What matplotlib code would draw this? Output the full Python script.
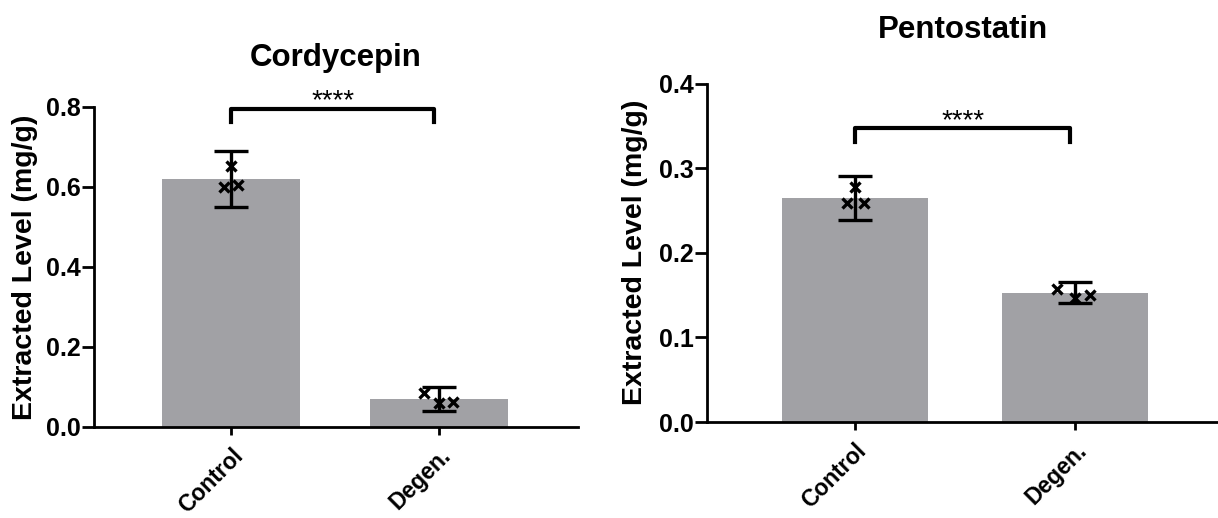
import matplotlib.pyplot as plt
import numpy as np

plt.rcParams['font.family'] = ['Liberation Sans', 'DejaVu Sans']
plt.rcParams['font.weight'] = 'bold'

groups = ['Control', 'Degen.']

# Cordycepin
cord_mean = [0.62, 0.07]
cord_sd = [0.071, 0.030]
cord_pts_x = [[-0.034, 0.0, 0.034], [-0.072, 0.0, 0.067]]
cord_pts_y = [[0.601, 0.652, 0.605], [0.084, 0.061, 0.0625]]

# Pentostatin
pent_mean = [0.265, 0.153]
pent_sd = [0.026, 0.012]
pent_pts_x = [[-0.036, 0.0, 0.04], [-0.082, 0.0, 0.068]]
pent_pts_y = [[0.2585, 0.278, 0.2585], [0.157, 0.146, 0.150]]

bar_color = '#a1a1a5'

fig = plt.figure(figsize=(12.18, 5.18), dpi=100)
ax1 = fig.add_axes([0.0772, 0.1757, 0.3974, 0.6178])
ax2 = fig.add_axes([0.5805, 0.1853, 0.4195, 0.6533])


def panel(ax, title, mean, sd, px, py, ymax, ystep, xlim, brk_y, brk_drop, star_y,
          title_y, ylab_x):
    x = np.arange(len(groups))
    ax.bar(x, mean, width=0.66, color=bar_color, zorder=1)
    ax.errorbar(x, mean, yerr=sd, fmt='none', ecolor='black', elinewidth=2.4,
                capsize=12, capthick=2.4, zorder=3)
    for i in range(len(groups)):
        ax.plot(x[i] + np.array(px[i]), py[i], linestyle='none', marker='x',
                color='black', markersize=7.5, markeredgewidth=2.4, zorder=4)
    ax.set_xlim(*xlim)
    ax.set_ylim(0, ymax)
    yt = np.arange(0, ymax + ystep / 2, ystep)
    ax.set_yticks(yt)
    ax.set_yticklabels(['%.1f' % v for v in yt], fontsize=18, fontweight='bold')
    ax.set_xticks(x)
    ax.set_xticklabels(groups, rotation=45, ha='right', rotation_mode='anchor',
                       fontsize=16.5, fontweight='bold')
    ax.tick_params(axis='both', width=2, direction='out')
    ax.tick_params(axis='x', length=6, pad=6)
    ax.tick_params(axis='y', length=8.5, pad=1)
    for s in ['top', 'right']:
        ax.spines[s].set_visible(False)
    for s in ['left', 'bottom']:
        ax.spines[s].set_linewidth(2)
    ax.set_ylabel('Extracted Level (mg/g)', fontsize=20.5, fontweight='bold')
    ax.yaxis.set_label_coords(ylab_x, 0.5)
    ax.text(0.5, title_y, title, transform=ax.transAxes, ha='center', va='center',
            fontsize=22.5, fontweight='bold')
    # significance bracket
    ax.plot([0, 0, 0.975, 0.975], [brk_y - brk_drop, brk_y, brk_y, brk_y - brk_drop],
            color='black', linewidth=3, clip_on=False)
    ax.text(0.49, star_y, '****', ha='center', va='center', fontsize=20,
            fontweight='normal')


panel(ax1, 'Cordycepin', cord_mean, cord_sd, cord_pts_x, cord_pts_y,
      0.8, 0.2, (-0.659, 1.668), 0.794, 0.032, 0.815, 1.153, -0.116)
panel(ax2, 'Pentostatin', pent_mean, pent_sd, pent_pts_x, pent_pts_y,
      0.4, 0.1, (-0.673, 1.65), 0.347, 0.016, 0.355, 1.158, -0.115)

fig.savefig('out.png', dpi=100)
